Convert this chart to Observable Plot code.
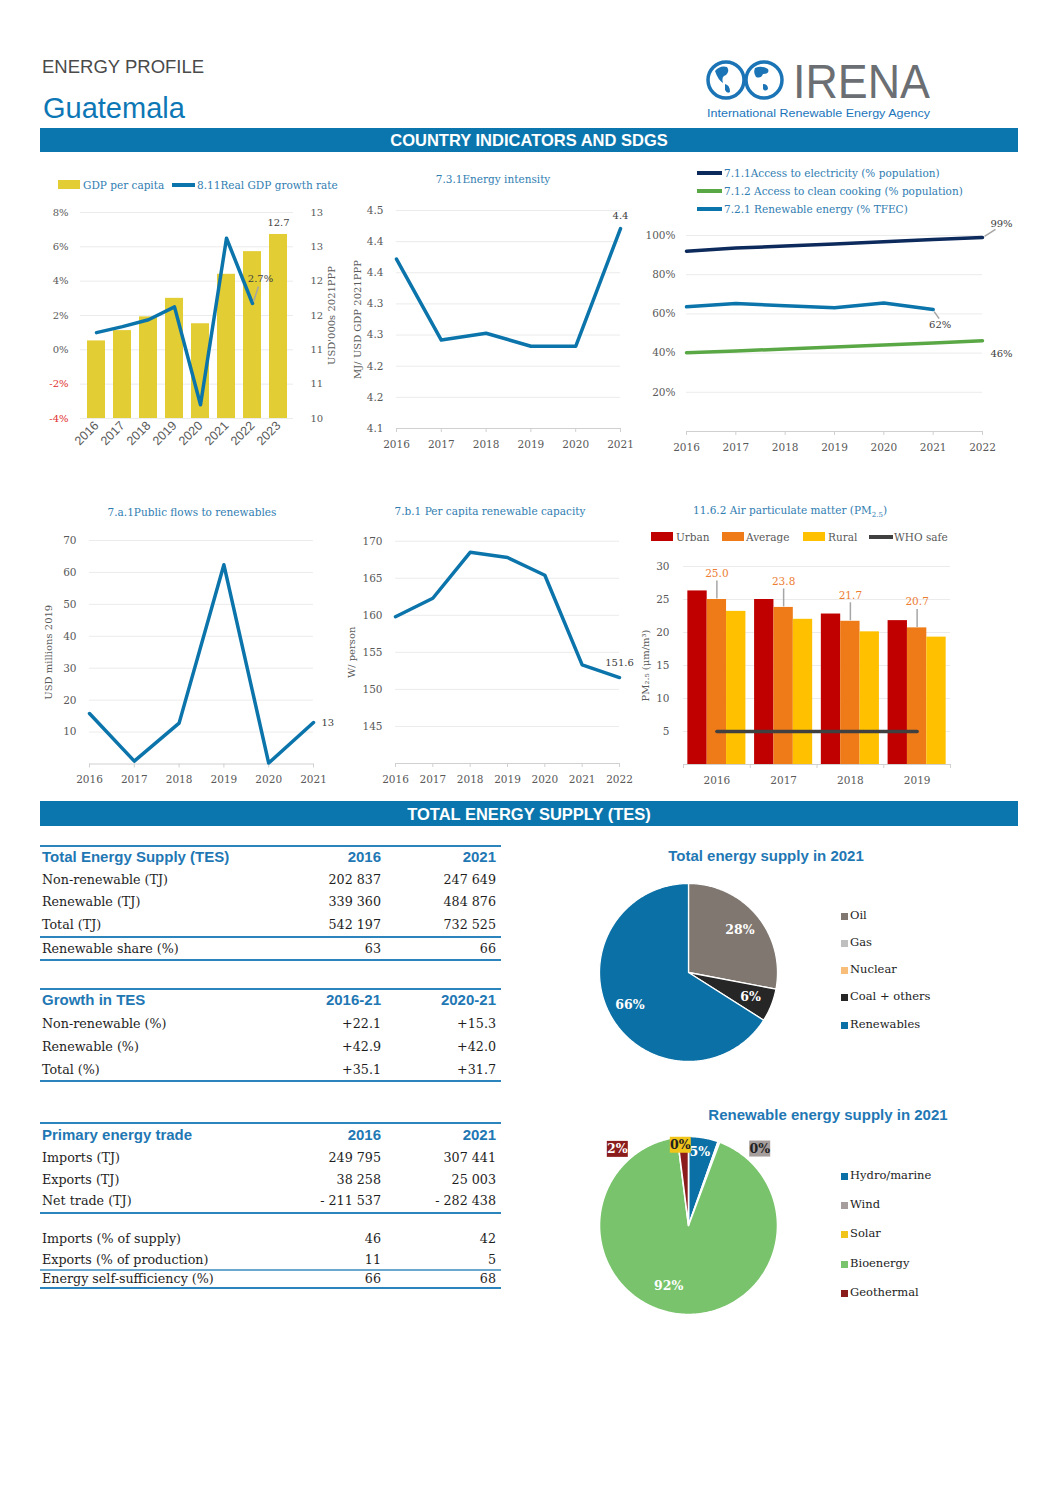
<!DOCTYPE html>
<html><head><meta charset="utf-8">
<script src="https://cdn.jsdelivr.net/npm/d3@7"></script>
<script src="https://cdn.jsdelivr.net/npm/@observablehq/plot@0.6"></script>
<style>
html,body{margin:0;padding:0;background:#fff;}
#page{position:relative;width:1058px;height:1497px;overflow:hidden;font-family:"DejaVu Serif",serif;background:#fff;}
#page svg{overflow:visible;}
</style></head>
<body><div id="page"></div>
<script>
// ---------------- DATA ----------------
const gdpYears = ["2016","2017","2018","2019","2020","2021","2022","2023"];
const gdpPerCapita = [11.13, 11.28, 11.48, 11.75, 11.38, 12.10, 12.43, 12.68];
const gdpGrowth = [1.0, 1.35, 1.75, 2.5, -3.2, 6.5, 2.7];
const gdpLeftTicks = [-4, -2, 0, 2, 4, 6, 8];
const gdpLeftLabels = ["-4%", "-2%", "0%", "2%", "4%", "6%", "8%"];
const gdpRightLabels = ["10", "11", "11", "12", "12", "13", "13"];

const eiYears = [2016, 2017, 2018, 2019, 2020, 2021];
const eiValues = [4.372, 4.242, 4.253, 4.232, 4.232, 4.421];
const eiTicks = [4.1, 4.15, 4.2, 4.25, 4.3, 4.35, 4.4, 4.45];
const eiTickLabels = ["4.1", "4.2", "4.2", "4.3", "4.3", "4.4", "4.4", "4.5"];

const accYears = [2016, 2017, 2018, 2019, 2020, 2021, 2022];
const accElectricity = [92.0, 93.6, 94.6, 95.7, 96.8, 98.0, 99.0];
const accCooking = [40.2, 41.1, 42.1, 43.1, 44.1, 45.1, 46.3];
const reShareTfec = [63.6, 65.3, 64.2, 63.1, 65.6, 62.2];
const accTicks = [20, 40, 60, 80, 100];

const pfYears = [2016, 2017, 2018, 2019, 2020, 2021];
const pfValues = [15.8, 0.9, 12.8, 62.4, 0.3, 13.0];
const pfTicks = [10, 20, 30, 40, 50, 60, 70];

const pcYears = [2016, 2017, 2018, 2019, 2020, 2021, 2022];
const pcValues = [159.8, 162.3, 168.5, 167.8, 165.4, 153.3, 151.6];
const pcTicks = [145, 150, 155, 160, 165, 170];

const pmYears = ["2016", "2017", "2018", "2019"];
const pmUrban = [26.3, 25.0, 22.8, 21.8];
const pmAverage = [25.0, 23.8, 21.7, 20.7];
const pmRural = [23.2, 22.0, 20.1, 19.3];
const pmWhoSafe = 5;
const pmTicks = [5, 10, 15, 20, 25, 30];

const tesHead = ["Total Energy Supply (TES)", "2016", "2021"];
const tesRows = [["Non-renewable (TJ)", "202 837", "247 649"], ["Renewable (TJ)", "339 360", "484 876"], ["Total (TJ)", "542 197", "732 525"]];
const tesShareRow = ["Renewable share (%)", "63", "66"];
const growthHead = ["Growth in TES", "2016-21", "2020-21"];
const growthRows = [["Non-renewable (%)", "+22.1", "+15.3"], ["Renewable (%)", "+42.9", "+42.0"], ["Total (%)", "+35.1", "+31.7"]];
const tradeHead = ["Primary energy trade", "2016", "2021"];
const tradeRows = [["Imports (TJ)", "249 795", "307 441"], ["Exports (TJ)", "38 258", "25 003"], ["Net trade (TJ)", "- 211 537", "- 282 438"]];
const tradeRows2 = [["Imports (% of supply)", "46", "42"], ["Exports (% of production)", "11", "5"]];
const tradeRows3 = [["Energy self-sufficiency (%)", "66", "68"]];

const tesSources = ["Oil", "Gas", "Nuclear", "Coal + others", "Renewables"];
const tesShares = [28, 0, 0, 6, 66];
const reSources = ["Hydro/marine", "Wind", "Solar", "Bioenergy", "Geothermal"];
const reShares = [5.4, 0.0, 0.3, 92.3, 2.0];

// ---------------- STYLES ----------------
const BLUE = "#0b74ab", NAVY = "#0d2a5c", GREEN = "#5aa845", YELLOW = "#e2cd34";
const TITLE = "#2f7db1", AXIS = "#595959", GRID = "#ebebeb", BASE = "#d0d0d0", RED = "#e0302f";
const HEAD = "#1f78b4", BANNER = "#0b76ad";
const tesColors = ["#7f7770", "#bfbfbf", "#f8bd78", "#262626", "#0a70a5"];
const reColors = ["#0a70a5", "#a69d9d", "#f0c419", "#78c36b", "#8b1c1c"];
const pmColors = {Urban: "#c00000", Average: "#ee7a18", Rural: "#ffc000"};
const pstyle = {fontFamily: "DejaVu Serif, serif", fontSize: "10px", color: AXIS, overflow: "visible", background: "transparent"};

const page = document.getElementById("page");
function put(el, left, top) {
  el.style.position = "absolute"; el.style.left = left + "px"; el.style.top = top + "px";
  page.appendChild(el); return el;
}
function label(html, x, y, css = {}, anchor = "middle") {
  const d = document.createElement("div");
  d.innerHTML = html;
  Object.assign(d.style, {position: "absolute", left: x + "px", top: y + "px", whiteSpace: "nowrap", lineHeight: "1"});
  const tx = anchor === "middle" ? "-50%" : anchor === "end" ? "-100%" : "0";
  d.style.transform = `translate(${tx},-50%)`;
  Object.assign(d.style, css);
  page.appendChild(d); return d;
}
function box(x, y, w, h, color) {
  const d = document.createElement("div");
  Object.assign(d.style, {position: "absolute", left: x + "px", top: y + "px", width: w + "px", height: h + "px", background: color});
  page.appendChild(d); return d;
}
const seg = (x1, y1, x2, y2) => ({draw(ctx) { ctx.moveTo(x1, y1); ctx.lineTo(x2, y2); }});
const rectSym = (w, h) => ({draw(ctx) { ctx.rect(-w / 2, -h / 2, w, h); }});

const serif = "DejaVu Serif, serif", sans = "Liberation Sans, Arial, sans-serif";
const titleCss = {fontFamily: serif, fontSize: "10.5px", color: TITLE};
const yearAxis = (ticks, fmt) => [
  Plot.axisX(ticks, {tickSize: 4, tickFormat: () => "", stroke: BASE, label: null}),
  Plot.axisX(ticks, {tickSize: 0, tickPadding: 12, tickFormat: fmt, fontSize: 10.5, label: null})
];
const vTitle = (t, dx) => Plot.text([t], {text: d => d, frameAnchor: dx < 0 ? "left" : "right", textAnchor: "middle", dx, rotate: -90, fill: AXIS});

// ---------------- HEADER ----------------
label("ENERGY PROFILE", 42, 67, {fontFamily: sans, fontSize: "18.5px", color: "#4a4a4a"}, "start");
label("Guatemala", 43, 108, {fontFamily: sans, fontSize: "29px", color: "#0d77b5"}, "start");
{
  const ns = "http://www.w3.org/2000/svg";
  const svg = document.createElementNS(ns, "svg");
  svg.setAttribute("width", 240); svg.setAttribute("height", 70);
  svg.innerHTML = `
    <circle cx="26" cy="25" r="18" fill="#fff" stroke="#1a74b6" stroke-width="3.5"/>
    <circle cx="64" cy="25" r="18" fill="#fff" stroke="#1a74b6" stroke-width="3.5"/>
    <path d="M15 16 q5 -6 12 -4 q3 4 -1 8 q-5 1 -3 8 q-5 -3 -8 -12z" fill="#1a74b6"/>
    <path d="M25 29 q5 1 5 8 q-3 2 -5 -2z" fill="#1a74b6"/>
    <path d="M55 13 q7 -3 13 1 q2 5 -5 5 q-2 5 -7 3 q-3 -4 -1 -9z" fill="#1a74b6"/>
    <path d="M63 29 q5 0 5 5 q-3 3 -5 0z" fill="#1a74b6"/>
    <text x="93" y="43" font-family="Liberation Sans, Arial" font-size="48" fill="#6b6f73" textLength="137" lengthAdjust="spacingAndGlyphs">IRENA</text>
    <text x="7" y="62" font-family="Liberation Sans, Arial" font-size="11.5" fill="#1b75bb" textLength="223" lengthAdjust="spacingAndGlyphs">International Renewable Energy Agency</text>`;
  put(svg, 700, 55);
}
box(40, 128, 978, 24, BANNER);
label("COUNTRY INDICATORS AND SDGS", 529, 140, {fontFamily: sans, fontSize: "16.5px", fontWeight: "bold", color: "#fff"});
box(40, 801, 978, 25, BANNER);
label("TOTAL ENERGY SUPPLY (TES)", 529, 813.5, {fontFamily: sans, fontSize: "16.5px", fontWeight: "bold", color: "#fff"});

// ---------------- CHART 1: GDP ----------------
{
  box(58, 180, 22, 9, YELLOW);
  label("GDP per capita", 83, 185, titleCss, "start");
  box(172, 183, 23, 3.5, BLUE);
  label("8.11Real GDP growth rate", 197, 185, titleCss, "start");
  const toPct = v => (v - 10) / 3 * 12 - 4;
  const data = gdpYears.map((y, i) => ({year: y, gdp: gdpPerCapita[i], growth: gdpGrowth[i]}));
  const growth = data.filter(d => d.growth != null);
  const last = growth[growth.length - 1];
  const c = Plot.plot({
    width: 300, height: 275, marginLeft: 40, marginRight: 47, marginTop: 17, marginBottom: 52,
    style: pstyle,
    x: {type: "band", domain: gdpYears, paddingInner: 0.315, paddingOuter: 0.15, axis: null},
    y: {domain: [-4, 8], axis: null},
    marks: [
      Plot.ruleY(gdpLeftTicks, {stroke: GRID}),
      Plot.barY(data, {x: "year", y1: -4, y2: d => toPct(d.gdp), fill: YELLOW}),
      Plot.line(growth, {x: "year", y: "growth", stroke: BLUE, strokeWidth: 3.5}),
      Plot.text(gdpLeftTicks, {y: d => d, text: d => gdpLeftLabels[gdpLeftTicks.indexOf(d)], frameAnchor: "left", textAnchor: "end", dx: -12, fill: d => d < 0 ? RED : AXIS}),
      Plot.text(gdpLeftTicks, {y: d => d, text: d => gdpRightLabels[gdpLeftTicks.indexOf(d)], frameAnchor: "right", textAnchor: "start", dx: 17, fill: AXIS}),
      vTitle("USD'000s 2021PPP", 38),
      Plot.axisX({tickRotate: -45, tickSize: 0, tickPadding: 5, fontFamily: sans, fontSize: 12.5, fill: AXIS, label: null}),
      Plot.text([data[data.length - 1]], {x: "year", y: d => toPct(d.gdp), text: d => d.gdp.toFixed(1), dy: -12, fill: "#404040"}),
      Plot.dot([last], {x: "year", y: "growth", symbol: seg(1, -2, 6, -17), stroke: "#a6a6a6", fill: "none", r: 3}),
      Plot.text([last], {x: "year", y: "growth", text: d => d.growth.toFixed(1) + "%", dx: 8, dy: -25, fill: "#404040"})
    ]
  });
  put(c, 40, 195);
}

// ---------------- CHART 2: Energy intensity ----------------
{
  label("7.3.1Energy intensity", 493, 179, titleCss);
  const data = eiYears.map((y, i) => ({year: y, v: eiValues[i]}));
  const last = data[data.length - 1];
  const c = Plot.plot({
    width: 300, height: 270, marginLeft: 56, marginRight: 20, marginTop: 15, marginBottom: 37,
    style: pstyle,
    x: {domain: [2016, 2021], axis: null},
    y: {domain: [4.1, 4.45], axis: null},
    marks: [
      Plot.ruleY(eiTicks.slice(1), {stroke: GRID}),
      Plot.ruleY([4.1], {stroke: BASE}),
      ...yearAxis(eiYears, d => String(d)),
      Plot.axisY(eiTicks, {tickSize: 0, tickPadding: 13, tickFormat: d => eiTickLabels[eiTicks.indexOf(d)], fontSize: 10.5, label: null}),
      vTitle("MJ/ USD GDP 2021PPP", -39),
      Plot.line(data, {x: "year", y: "v", stroke: BLUE, strokeWidth: 3.5}),
      Plot.text([last], {x: "year", y: "v", text: d => d.v.toFixed(1), dy: -13, fill: "#404040"})
    ]
  });
  put(c, 340, 195);
}

// ---------------- CHART 3: Access ----------------
{
  const leg = [["7.1.1Access to electricity (% population)", NAVY], ["7.1.2 Access to clean cooking (% population)", GREEN], ["7.2.1 Renewable energy (% TFEC)", BLUE]];
  leg.forEach(([t, col], i) => {
    box(697, 171 + 18 * i, 25, 3.5, col);
    label(t, 724, 173 + 18 * i, titleCss, "start");
  });
  const el = accYears.map((y, i) => ({year: y, v: accElectricity[i]}));
  const ck = accYears.map((y, i) => ({year: y, v: accCooking[i]}));
  const re = accYears.slice(0, reShareTfec.length).map((y, i) => ({year: y, v: reShareTfec[i]}));
  const pctf = d => d.toFixed(0) + "%";
  const c = Plot.plot({
    width: 378, height: 255, marginLeft: 46, marginRight: 36, marginTop: 20, marginBottom: 39,
    style: pstyle,
    x: {domain: [2016, 2022], axis: null},
    y: {domain: [0, 100], axis: null},
    marks: [
      Plot.ruleY(accTicks, {stroke: GRID}),
      Plot.ruleY([0], {stroke: BASE}),
      ...yearAxis(accYears, d => String(d)),
      Plot.axisY(accTicks, {tickSize: 0, tickPadding: 11, tickFormat: d => d + "%", fontSize: 10.5, label: null}),
      Plot.line(el, {x: "year", y: "v", stroke: NAVY, strokeWidth: 3.5}),
      Plot.line(ck, {x: "year", y: "v", stroke: GREEN, strokeWidth: 3.5}),
      Plot.line(re, {x: "year", y: "v", stroke: BLUE, strokeWidth: 3.5}),
      Plot.dot([el[el.length - 1]], {x: "year", y: "v", symbol: seg(2, -1, 13, -8), stroke: "#a6a6a6", fill: "none", r: 3}),
      Plot.text([el[el.length - 1]], {x: "year", y: "v", text: d => pctf(d.v), dx: 19, dy: -14, fill: "#404040"}),
      Plot.dot([re[re.length - 1]], {x: "year", y: "v", symbol: seg(1, 2, 6, 9), stroke: "#a6a6a6", fill: "none", r: 3}),
      Plot.text([re[re.length - 1]], {x: "year", y: "v", text: d => pctf(d.v), dx: 7, dy: 15, fill: "#404040"}),
      Plot.text([ck[ck.length - 1]], {x: "year", y: "v", text: d => pctf(d.v), dx: 19, dy: 13, fill: "#404040"})
    ]
  });
  put(c, 640, 215);
}

// ---------------- CHART 4: Public flows ----------------
{
  label("7.a.1Public flows to renewables", 192, 512, titleCss);
  const data = pfYears.map((y, i) => ({year: y, v: pfValues[i]}));
  const last = data[data.length - 1];
  const c = Plot.plot({
    width: 300, height: 270, marginLeft: 49, marginRight: 27, marginTop: 15, marginBottom: 31.5,
    style: pstyle,
    x: {domain: [2016, 2021], axis: null},
    y: {domain: [0, 70], axis: null},
    marks: [
      Plot.ruleY(pfTicks, {stroke: GRID}),
      Plot.ruleY([0], {stroke: BASE}),
      ...yearAxis(pfYears, d => String(d)),
      Plot.axisY(pfTicks, {tickSize: 0, tickPadding: 13, tickFormat: d => String(d), fontSize: 10.5, label: null}),
      vTitle("USD millions 2019", -41),
      Plot.line(data, {x: "year", y: "v", stroke: BLUE, strokeWidth: 3.5}),
      Plot.text([last], {x: "year", y: "v", text: d => d.v.toFixed(0), dx: 8, textAnchor: "start", fill: "#404040"})
    ]
  });
  put(c, 40, 525);
}

// ---------------- CHART 5: Per capita capacity ----------------
{
  label("7.b.1 Per capita renewable capacity", 490, 511, titleCss);
  const data = pcYears.map((y, i) => ({year: y, v: pcValues[i]}));
  const last = data[data.length - 1];
  const c = Plot.plot({
    width: 300, height: 270, marginLeft: 55, marginRight: 21, marginTop: 15.7, marginBottom: 32,
    style: pstyle,
    x: {domain: [2016, 2022], axis: null},
    y: {domain: [140, 170], axis: null},
    marks: [
      Plot.ruleY(pcTicks, {stroke: GRID}),
      Plot.ruleY([140], {stroke: BASE}),
      ...yearAxis(pcYears, d => String(d)),
      Plot.axisY(pcTicks, {tickSize: 0, tickPadding: 13, tickFormat: d => String(d), fontSize: 10.5, label: null}),
      vTitle("W/ person", -44),
      Plot.line(data, {x: "year", y: "v", stroke: BLUE, strokeWidth: 3.5}),
      Plot.text([last], {x: "year", y: "v", text: d => d.v.toFixed(1), dy: -15, fill: "#404040"})
    ]
  });
  put(c, 340, 525);
}

// ---------------- CHART 6: PM2.5 ----------------
{
  label("11.6.2 Air particulate matter (PM<sub style='font-size:7px'>2.5</sub>)", 790, 512, titleCss);
  const legCss = {fontFamily: serif, fontSize: "10.5px", color: AXIS};
  box(651, 532, 22, 9, pmColors.Urban); label("Urban", 676, 537, legCss, "start");
  box(722, 532, 22, 9, pmColors.Average); label("Average", 746, 537, legCss, "start");
  box(803, 532, 22, 9, pmColors.Rural); label("Rural", 828, 537, legCss, "start");
  box(869, 535, 24, 3.5, "#404040"); label("WHO safe", 894, 537, legCss, "start");
  const series = [["Urban", pmUrban], ["Average", pmAverage], ["Rural", pmRural]];
  const data = pmYears.flatMap((y, g) => series.map(([s, arr], si) => ({year: y, g, si, series: s, v: arr[g]})));
  const avg = data.filter(d => d.series === "Average");
  const who = pmYears.map((y, g) => ({g, v: pmWhoSafe}));
  const BW = 0.29;
  const c = Plot.plot({
    width: 330, height: 270, marginLeft: 48, marginRight: 15, marginTop: 41, marginBottom: 31,
    style: pstyle,
    x: {domain: [-0.5, pmYears.length - 0.5], axis: null},
    y: {domain: [0, 30], axis: null},
    marks: [
      Plot.ruleY(pmTicks, {stroke: GRID}),
      Plot.rect(data, {x1: d => d.g + (d.si - 1.5) * BW, x2: d => d.g + (d.si - 0.5) * BW, y1: 0, y2: "v", fill: d => pmColors[d.series]}),
      Plot.ruleY([0], {stroke: BASE}),
      Plot.axisX(d3.range(pmYears.length + 1).map(i => i - 0.5), {tickSize: 4, tickFormat: () => "", stroke: BASE, label: null}),
      Plot.axisX(d3.range(pmYears.length), {tickSize: 0, tickPadding: 12, tickFormat: i => pmYears[i], fontSize: 10.5, label: null}),
      Plot.axisY(pmTicks, {tickSize: 0, tickPadding: 14, tickFormat: d => String(d), fontSize: 10.5, label: null}),
      vTitle("PM₂.₅ (μm/m³)", -38),
      Plot.line(who, {x: "g", y: "v", stroke: "#404040", strokeWidth: 3.5}),
      Plot.dot(avg, {x: "g", y: "v", symbol: seg(0, -1, 0, -19), stroke: "#a6a6a6", fill: "none", r: 3}),
      Plot.text(avg, {x: "g", y: "v", text: d => d.v.toFixed(1), dy: -26, fill: "#ed7d31", fontSize: 10.5})
    ]
  });
  put(c, 635, 525);
}

// ---------------- TABLES ----------------
function rule(top, h = 2, color = "#2b84bb") { box(40, top, 461, h, color); }
function tRow(cells, top, h, head = false) {
  const row = document.createElement("div");
  Object.assign(row.style, {position: "absolute", left: "40px", top: top + "px", width: "461px", height: h + "px", lineHeight: h + "px"});
  cells.forEach((c, i) => {
    const s = document.createElement("span");
    s.textContent = c;
    Object.assign(s.style, {position: "absolute", whiteSpace: "nowrap"});
    if (i === 0) s.style.left = "2px"; else s.style.right = (i === 1 ? 120 : 5) + "px";
    if (head) Object.assign(s.style, {fontFamily: sans, fontWeight: "bold", fontSize: "15px", color: HEAD});
    else Object.assign(s.style, {fontFamily: serif, fontSize: "12.7px", color: "#1e1e1e"});
    row.appendChild(s);
  });
  page.appendChild(row);
}
// table 1
rule(845);
tRow(tesHead, 846, 22, true);
tesRows.forEach((r, i) => tRow(r, 868.5 + 22.6 * i, 22.6));
rule(935.5);
tRow(tesShareRow, 937.5, 21.5);
rule(959);
// table 2
rule(988);
tRow(growthHead, 989, 22, true);
growthRows.forEach((r, i) => tRow(r, 1012 + 23 * i, 23));
rule(1080);
// table 3
rule(1122);
tRow(tradeHead, 1123, 23, true);
tradeRows.forEach((r, i) => tRow(r, 1147 + 21.5 * i, 21.5));
rule(1211.5);
tradeRows2.forEach((r, i) => tRow(r, 1229 + 20.5 * i, 20.5));
rule(1269, 1.5, "#6aa8d0");
tradeRows3.forEach((r, i) => tRow(r, 1270, 17.5));
rule(1286.5);

// ---------------- PIES ----------------
function pieGeom(sources, shares, colors) {
  const arcs = d3.pie().sort(null).value(d => d.v)(sources.map((s, i) => ({s, v: shares[i], c: colors[i]})));
  const pts = [];
  arcs.forEach(a => {
    if (a.data.v <= 0) return;
    const k = a.data.s, c = a.data.c;
    pts.push({k, c, x: 0, y: 0});
    const n = Math.max(2, Math.ceil((a.endAngle - a.startAngle) / 0.01));
    for (let j = 0; j <= n; j++) {
      const t = a.startAngle + (a.endAngle - a.startAngle) * j / n;
      pts.push({k, c, x: Math.sin(t), y: Math.cos(t)});
    }
    pts.push({k, c, x: 0, y: 0});
  });
  const labs = arcs.map(a => {
    const m = (a.startAngle + a.endAngle) / 2;
    return {s: a.data.s, v: a.data.v, c: a.data.c, x: 0.75 * Math.sin(m), y: 0.75 * Math.cos(m)};
  });
  return {pts, labs};
}
const R = 89, PM = 14;
function legend(sources, colors, x, ys) {
  sources.forEach((s, i) => {
    box(x, ys[i] - 3.5, 7, 7, colors[i]);
    label(s, x + 9, ys[i], {fontFamily: serif, fontSize: "11.5px", color: "#222"}, "start");
  });
}
const pieLabCss = {fill: "white", fontWeight: "bold", fontSize: 12.5, fontFamily: serif};
{
  label("Total energy supply in 2021", 766, 855, {fontFamily: sans, fontWeight: "bold", fontSize: "15px", color: HEAD});
  const {pts, labs} = pieGeom(tesSources, tesShares, tesColors);
  const c = Plot.plot({
    width: 2 * R + 2 * PM, height: 2 * R + 2 * PM, margin: PM, style: pstyle,
    x: {domain: [-1, 1], axis: null}, y: {domain: [-1, 1], axis: null},
    marks: [
      Plot.line(pts, {x: "x", y: "y", z: "k", fill: "c", stroke: "white", strokeWidth: 1.3, strokeLinejoin: "round"}),
      Plot.text(labs.filter(d => d.v > 0), {x: "x", y: "y", text: d => d.v.toFixed(0) + "%", ...pieLabCss})
    ]
  });
  put(c, 688 - R - PM, 972 - R - PM);
  legend(tesSources, tesColors, 841, [916, 943, 970, 997, 1025]);
}
{
  label("Renewable energy supply in 2021", 828, 1114, {fontFamily: sans, fontWeight: "bold", fontSize: "15px", color: HEAD});
  const {pts, labs} = pieGeom(reSources, reShares, reColors);
  const by = s => labs.filter(d => d.s === s);
  const pct = d => d.v.toFixed(0) + "%";
  const boxed = (s, dx, dy, bg, fg) => [
    Plot.dot(by(s), {x: "x", y: "y", dx, dy, symbol: rectSym(21, 16), fill: bg, stroke: "none", r: 3}),
    Plot.text(by(s), {x: "x", y: "y", dx, dy, text: pct, fill: fg, fontWeight: "bold", fontSize: 12.5, fontFamily: serif})
  ];
  const c = Plot.plot({
    width: 2 * R + 2 * PM, height: 2 * R + 2 * PM, margin: PM, style: pstyle,
    x: {domain: [-1, 1], axis: null}, y: {domain: [-1, 1], axis: null},
    marks: [
      Plot.line(pts, {x: "x", y: "y", z: "k", fill: "c", stroke: "white", strokeWidth: 1.6, strokeLinejoin: "round"}),
      Plot.text(by("Bioenergy"), {x: "x", y: "y", dx: -12, dy: -6, text: pct, ...pieLabCss}),
      Plot.text(by("Hydro/marine"), {x: "x", y: "y", dy: -8, text: pct, ...pieLabCss}),
      ...boxed("Geothermal", -67, -10, "#8b1c1c", "white"),
      ...boxed("Solar", -31, -18, "#f0c419", "#222"),
      ...boxed("Wind", 49, -14, "#a69d9d", "#222")
    ]
  });
  put(c, 688 - R - PM, 1225 - R - PM);
  legend(reSources, reColors, 841, [1176, 1205, 1234, 1264, 1293]);
}
</script>
</body></html>
